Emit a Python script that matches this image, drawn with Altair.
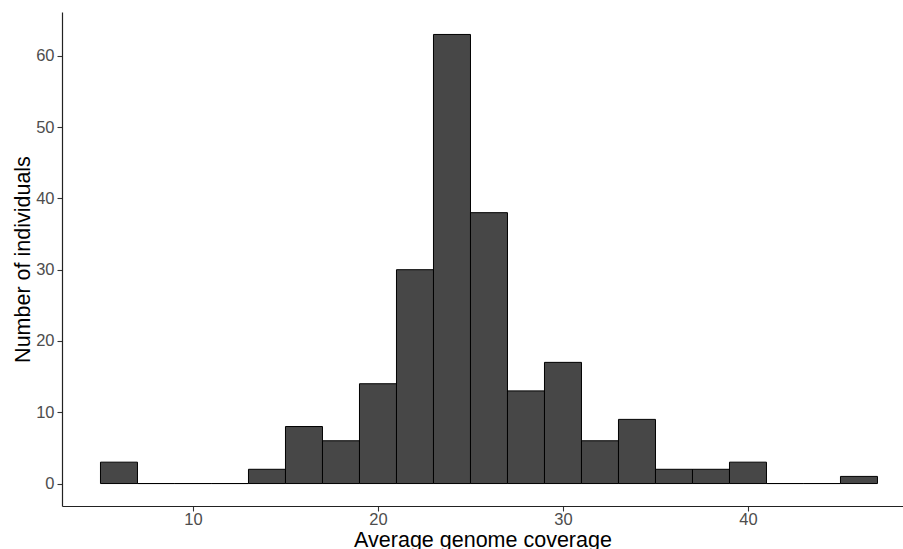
import altair as alt
import pandas as pd

# Histogram of average genome coverage, bins of width 2
bin_start = [5, 7, 9, 11, 13, 15, 17, 19, 21, 23, 25, 27, 29, 31, 33, 35, 37, 39, 41, 43, 45]
counts = [3, 0, 0, 0, 2, 8, 6, 14, 30, 63, 38, 13, 17, 6, 9, 2, 2, 3, 0, 0, 1]
bin_width = 2

df = pd.DataFrame({
    "start": bin_start,
    "end": [s + bin_width for s in bin_start],
    "count": counts,
})

FONT = "Liberation Sans"

axis_style = dict(
    grid=False,
    domainColor="#222222",
    domainWidth=1.2,
    tickColor="#333333",
    tickSize=5,
    tickWidth=1.1,
    labelColor="#4d4d4d",
    labelFontSize=16.5,
    labelFont=FONT,
    titleFont=FONT,
    titleFontSize=21.5,
    titleFontWeight="normal",
    titleColor="black",
)

bars = alt.Chart(df).mark_rect(
    fill="#474747", stroke="black", strokeWidth=1, clip=True
).encode(
    x=alt.X(
        "start:Q",
        scale=alt.Scale(domain=[2.92, 48.38], nice=False, zero=False),
        axis=alt.Axis(
            title="Average genome coverage",
            values=[10, 20, 30, 40],
            labelPadding=0,
            titleY=40,
            titleBaseline="alphabetic",
            **axis_style,
        ),
    ),
    x2="end:Q",
    y=alt.Y(
        "count:Q",
        scale=alt.Scale(domain=[-3.15, 66.15], nice=False, zero=False),
        axis=alt.Axis(
            title="Number of individuals",
            values=[0, 10, 20, 30, 40, 50, 60],
            labelPadding=3,
            titleX=-39,
            titleY=247,
            titleAngle=-90,
            titleAlign="center",
            titleBaseline="middle",
            **axis_style,
        ),
    ),
    y2=alt.datum(0),
)

chart = bars.properties(
    width=841,
    height=494,
    autosize="none",
    padding={"left": 62, "top": 12, "right": 0, "bottom": 43},
    background="white",
).configure_view(stroke=None)

chart.save("out.html", embed_options={"renderer": "svg", "actions": False})
